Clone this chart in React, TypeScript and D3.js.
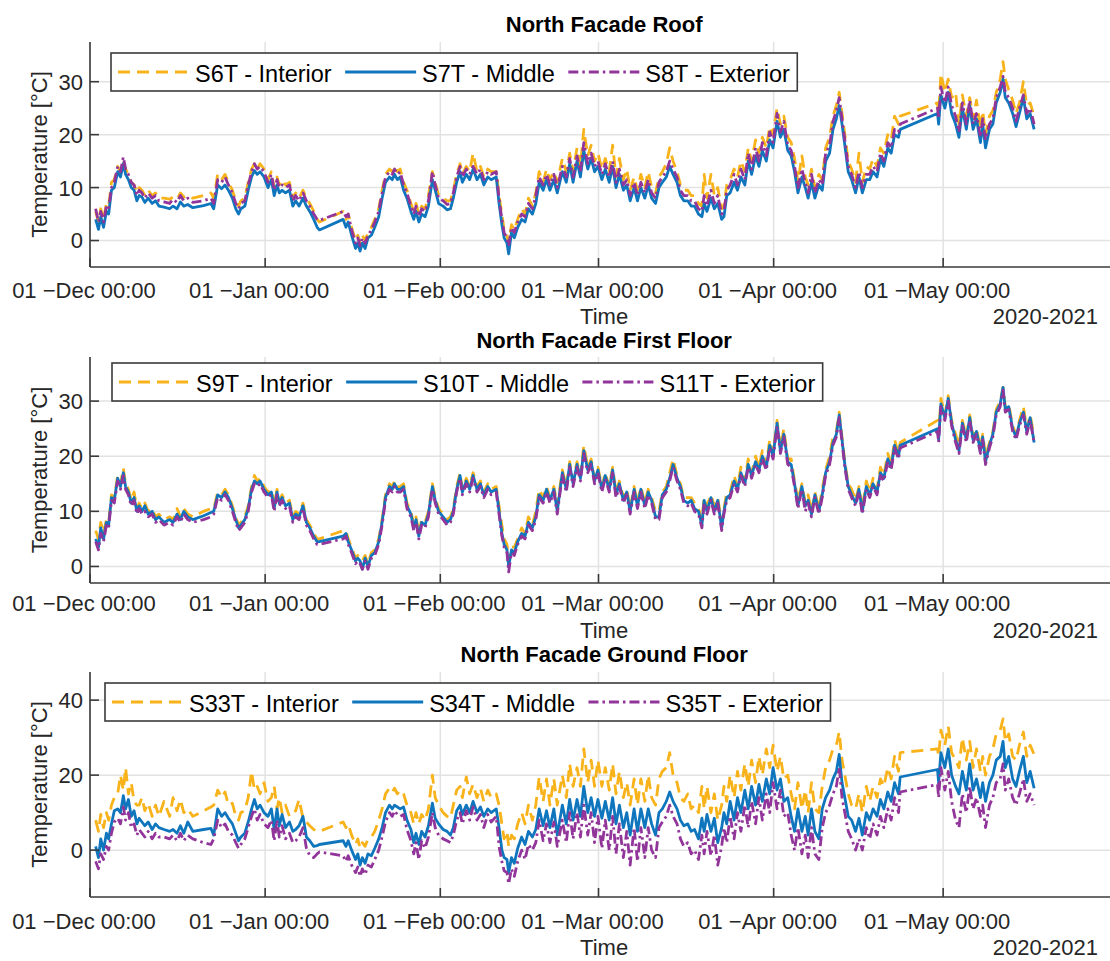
import React, { useMemo } from 'react';
import * as d3 from 'd3';

// Time axis: 1 Dec 2020 to 1 Jun 2021, values stored as days since 1 Dec 2020
const START = Date.UTC(2020, 11, 1);
const END = Date.UTC(2021, 5, 1);
const DAY = 86400000;

const days = [
  1.0, 1.5, 1.9, 2.4, 2.9, 3.3, 3.8, 4.3, 4.9, 5.4, 5.9, 6.3, 6.8, 7.3, 7.8, 8.3, 8.7, 9.2, 9.7, 10.3, 11.0, 11.6, 12.2, 13.1, 14.1, 14.7, 15.4, 16.0, 16.6, 17.3, 18.2, 20.1, 21.4, 21.9,
  22.6, 23.3, 23.9, 24.5, 25.2, 25.8, 26.3, 26.7, 27.4, 28.0, 28.6, 29.1, 29.6, 30.1, 30.8, 31.5, 32.1, 32.6, 33.1, 33.5, 34.0, 34.6, 35.3, 35.9, 36.4, 37.0, 37.7, 38.3, 38.9, 39.6, 40.2, 40.6,
  44.8, 45.3, 45.7, 46.3, 47.0, 47.4, 47.8, 48.2, 48.7, 49.2, 49.8, 50.4, 51.1, 51.7, 52.3, 53.0, 53.5, 53.9, 54.4, 54.9, 55.5, 56.1, 56.8, 57.3, 57.7, 58.2, 58.7, 59.3, 59.9, 60.6, 61.1, 61.7, 62.5, 63.2, 63.8, 64.3, 64.9, 65.5, 65.9, 66.6, 67.2, 67.8, 68.5, 69.1, 69.7, 70.4, 71.0, 71.9,
  72.4, 72.9, 73.3, 73.8, 74.1, 74.6, 75.1, 75.7, 76.4, 77.0, 77.6, 78.3, 78.9, 79.5, 80.2, 80.8, 81.4, 82.1, 82.7, 83.6, 84.3, 84.9, 85.5, 86.2, 86.8, 87.4, 88.1, 88.7, 89.3, 89.9, 90.6, 91.2, 91.9, 92.5, 93.1, 93.7, 94.4, 95.0, 95.6, 96.3, 96.9, 97.5, 98.2, 98.8, 99.4, 100.1,
  100.7, 101.3, 102.0, 102.6, 103.2, 103.9, 104.5, 105.1, 105.8, 106.4, 107.0, 107.7, 108.3, 108.7, 109.2, 109.9, 110.5, 111.1, 111.8, 112.2, 112.7, 113.3, 114.0, 114.6, 115.2, 115.9, 116.5, 117.1, 117.8, 118.4, 119.0, 119.7, 120.3, 120.9, 121.6, 122.2, 122.8, 123.5, 124.1, 124.7, 125.3, 126.0, 126.6, 127.1, 127.7, 128.3, 129.0, 129.6, 130.2, 130.9, 131.5, 132.1, 132.6, 133.1, 133.6, 134.2, 134.8, 135.5, 136.1, 136.7, 137.4, 138.0, 138.6, 139.3, 139.9, 140.5, 141.2, 141.8, 142.4, 143.1, 143.4,
  150.0, 150.2, 150.6, 151.3, 151.9, 152.5, 153.2, 153.8, 154.4, 155.1, 155.7, 156.3, 156.9, 157.6, 158.0, 158.5, 159.2, 159.8, 160.4, 161.1, 161.6, 162.0, 162.6, 163.3, 163.9, 164.5, 165.2, 165.8, 166.4, 167.1,
];

// North facade roof [°C]
const roofS6T = [
  5.5, 3.5, 6.0, 4.0, 7.0, 6.5, 11.0, 11.5, 14.0, 13.0, 15.0, 13.5, 12.5, 11.0, 10.5, 9.0, 10.0, 9.5, 8.5, 9.5, 8.5, 9.0, 8.0, 8.0, 7.8, 8.2, 7.8, 9.0, 8.2, 8.5, 8.0, 8.5, 9.0, 8.0,
  12.5, 11.5, 12.5, 11.0, 9.5, 7.5, 6.5, 7.5, 8.0, 11.0, 13.5, 14.5, 13.5, 14.5, 13.5, 11.5, 13.0, 10.0, 12.0, 10.5, 11.5, 10.5, 11.0, 8.0, 9.0, 8.0, 9.5, 8.0, 7.0, 5.5, 4.0, 3.5,
  5.5, 4.0, 5.0, 2.5, 0.0, 1.0, -0.5, 1.0, 0.0, 1.5, 2.5, 4.0, 6.0, 9.5, 12.5, 13.5, 13.0, 14.0, 13.0, 13.5, 11.0, 9.5, 7.0, 5.5, 7.0, 5.0, 6.5, 6.0, 8.5, 13.0, 11.0, 8.5, 8.0, 7.5, 7.5, 9.5, 12.5, 14.5, 12.5, 14.0, 13.0, 16.5, 13.0, 14.0, 12.0, 13.5, 13.0, 13.0,
  8.5, 5.0, 2.0, 1.0, -0.5, 3.0, 2.0, 4.0, 6.0, 5.0, 8.0, 6.5, 9.0, 13.0, 11.0, 13.5, 11.5, 13.0, 11.0, 15.5, 13.0, 16.5, 13.0, 17.5, 14.0, 21.0, 16.0, 18.0, 15.0, 16.5, 13.5, 15.5, 13.0, 18.0, 12.0, 15.5, 11.5, 13.5, 9.5, 12.0, 9.5, 12.5, 10.0, 13.0, 10.0, 9.0,
  12.0, 13.0, 14.5, 17.5, 15.0, 13.0, 10.5, 9.5, 9.5, 8.5, 8.5, 7.0, 6.5, 12.5, 8.0, 12.5, 8.5, 10.0, 6.0, 6.5, 10.5, 11.5, 13.5, 12.0, 15.0, 13.0, 17.5, 15.0, 19.0, 16.5, 19.5, 17.5, 21.5, 20.0, 25.0, 22.0, 23.5, 19.5, 18.5, 15.5, 11.0, 16.0, 12.0, 10.5, 13.5, 10.0, 12.5, 11.5, 17.5, 19.5, 23.5, 25.5, 28.0, 24.0, 20.0, 15.0, 13.5, 11.0, 16.5, 11.0, 14.0, 13.5, 15.5, 14.0, 17.5, 16.5, 20.0, 19.0, 23.5, 22.0, 23.5,
  26.0, 24.0, 31.5, 28.0, 30.5, 27.0, 28.0, 22.0, 27.5, 23.5, 27.0, 23.0, 26.5, 21.0, 24.5, 20.0, 23.5, 24.5, 28.0, 30.5, 33.8, 30.5, 28.5, 26.5, 24.0, 26.0, 30.0, 25.5, 26.0, 23.5,
];
const roofS7T = [
  4.0, 2.1, 4.5, 2.5, 5.5, 5.0, 9.5, 10.0, 13.0, 12.0, 14.5, 12.5, 11.5, 10.0, 9.5, 7.5, 8.5, 8.2, 7.2, 8.0, 7.0, 7.5, 6.5, 6.3, 6.0, 6.5, 6.0, 7.3, 6.5, 6.8, 6.2, 6.6, 7.0, 6.0,
  10.5, 9.8, 10.5, 9.5, 8.0, 6.0, 5.0, 6.0, 6.5, 9.5, 12.0, 13.2, 12.5, 13.0, 12.0, 10.0, 11.5, 8.5, 10.5, 9.0, 9.5, 9.0, 9.5, 6.5, 7.5, 6.5, 8.0, 6.5, 5.5, 4.0, 2.5, 2.0,
  4.0, 2.5, 3.5, 1.0, -1.5, -0.5, -2.0, -0.5, -1.5, 0.5, 1.0, 2.5, 4.5, 8.0, 11.0, 12.0, 11.5, 12.5, 11.5, 12.0, 9.5, 8.0, 5.5, 4.0, 5.5, 3.5, 5.0, 4.5, 6.5, 11.5, 9.5, 7.0, 6.5, 5.8, 6.0, 8.0, 11.0, 13.0, 11.0, 12.5, 11.5, 13.5, 11.5, 12.5, 10.5, 12.0, 11.5, 12.0,
  7.0, 3.0, 0.5, -0.5, -2.5, 1.5, 0.5, 2.5, 4.0, 3.5, 6.0, 5.0, 7.0, 11.0, 9.5, 11.5, 9.5, 11.5, 9.0, 13.0, 11.0, 14.5, 11.0, 15.0, 12.0, 17.0, 13.5, 15.5, 13.0, 14.0, 11.5, 13.5, 11.0, 14.0, 10.0, 12.5, 9.5, 10.5, 7.5, 10.0, 7.5, 10.0, 8.0, 10.5, 8.0, 7.0,
  10.0, 11.0, 12.0, 14.0, 12.5, 11.0, 8.5, 7.5, 7.5, 6.5, 6.5, 5.0, 4.5, 7.0, 5.5, 8.0, 6.0, 7.0, 4.0, 4.5, 8.5, 9.0, 11.0, 9.5, 12.0, 10.5, 15.0, 12.5, 16.0, 14.0, 17.0, 15.0, 19.0, 17.5, 22.5, 19.5, 21.0, 17.0, 16.0, 13.0, 9.0, 12.0, 10.0, 8.0, 11.0, 8.0, 10.5, 9.5, 15.0, 16.5, 21.0, 23.0, 25.5, 22.0, 18.0, 13.0, 11.5, 9.0, 12.0, 9.0, 11.5, 11.5, 13.0, 12.0, 15.5, 14.0, 17.5, 16.5, 20.0, 19.5, 21.0,
  24.0, 22.0, 27.5, 25.0, 28.0, 24.0, 22.0, 19.5, 25.0, 21.0, 25.5, 21.0, 23.0, 18.5, 22.0, 17.5, 21.0, 22.0, 26.0, 28.0, 30.5, 27.0, 26.0, 24.0, 21.5, 24.0, 27.0, 23.0, 24.0, 21.0,
];
const roofS8T = [
  6.0, 3.5, 5.5, 3.5, 6.5, 6.0, 10.0, 11.0, 14.0, 13.0, 15.8, 13.5, 12.5, 11.0, 10.5, 8.5, 9.5, 9.0, 8.0, 9.0, 8.0, 8.5, 7.5, 7.3, 7.0, 7.8, 7.2, 8.5, 7.5, 8.0, 7.2, 7.5, 8.0, 7.0,
  11.5, 11.0, 12.0, 10.5, 9.0, 7.0, 6.0, 7.0, 7.5, 10.5, 13.0, 14.5, 13.5, 14.0, 13.0, 11.0, 12.5, 9.5, 11.5, 10.0, 10.5, 10.0, 10.5, 7.5, 8.5, 7.5, 9.0, 7.5, 6.5, 5.0, 4.0, 3.8,
  5.5, 4.5, 5.0, 2.0, -0.5, 0.5, -1.0, 0.5, -0.5, 1.0, 2.0, 3.5, 5.5, 9.0, 12.0, 13.0, 12.5, 13.5, 12.5, 13.0, 10.5, 9.0, 6.5, 5.0, 6.5, 4.5, 6.0, 5.5, 7.5, 13.0, 10.5, 8.0, 7.5, 6.8, 7.0, 9.0, 12.0, 14.0, 12.0, 13.5, 12.5, 14.0, 12.5, 13.5, 11.5, 13.0, 12.5, 13.0,
  8.0, 4.0, 1.5, 0.5, -1.0, 2.5, 1.5, 3.5, 5.0, 4.5, 7.0, 6.0, 8.5, 12.0, 10.5, 12.5, 10.5, 12.5, 10.0, 14.0, 12.0, 15.5, 12.0, 16.0, 13.0, 18.5, 14.5, 16.5, 14.0, 15.0, 12.5, 14.5, 12.0, 15.0, 11.0, 13.5, 10.5, 11.5, 8.5, 11.0, 8.5, 11.0, 9.0, 11.5, 9.0, 8.0,
  11.0, 12.0, 13.0, 15.0, 13.5, 12.0, 9.5, 8.5, 8.5, 7.5, 7.5, 6.0, 5.5, 8.5, 6.5, 9.5, 7.0, 8.5, 5.0, 5.5, 9.5, 10.5, 12.5, 10.5, 13.5, 11.5, 16.5, 13.5, 17.5, 15.0, 18.5, 16.0, 20.5, 18.5, 24.0, 20.5, 22.5, 18.0, 17.0, 14.0, 10.0, 13.5, 11.0, 9.0, 12.5, 9.0, 11.5, 10.5, 16.5, 18.0, 22.5, 24.5, 27.0, 23.0, 19.0, 14.0, 12.5, 10.0, 13.0, 10.0, 12.5, 12.5, 14.0, 13.0, 16.5, 15.0, 18.5, 17.5, 21.0, 20.5, 22.0,
  25.0, 23.0, 29.0, 26.0, 29.0, 25.5, 23.5, 20.5, 26.0, 22.0, 26.5, 22.0, 24.0, 19.5, 23.0, 19.0, 22.0, 23.0, 27.0, 29.0, 31.0, 28.0, 27.0, 25.0, 22.5, 25.0, 27.5, 24.0, 25.0, 22.0,
];

// North facade first floor [°C]
const firstS9T = [
  6.5, 5.0, 8.0, 6.0, 8.5, 8.0, 13.0, 12.5, 16.5, 15.0, 17.8, 15.0, 14.0, 12.0, 13.5, 10.5, 11.5, 10.5, 11.5, 10.0, 10.5, 9.0, 9.5, 8.5, 9.0, 8.5, 10.5, 9.0, 10.5, 9.5, 9.0, 10.0, 10.5, 10.5,
  13.5, 13.0, 14.0, 13.0, 11.0, 9.0, 7.5, 8.0, 9.0, 11.0, 14.5, 16.5, 15.5, 16.0, 14.5, 13.5, 14.0, 11.0, 14.0, 12.0, 13.0, 11.5, 12.0, 9.0, 10.0, 9.5, 11.5, 8.5, 7.5, 6.0, 5.0, 5.0,
  6.5, 6.5, 5.0, 3.5, 1.5, 2.0, 1.5, 1.0, 2.0, 0.5, 2.5, 3.0, 5.0, 8.5, 13.0, 15.0, 14.5, 15.5, 14.5, 14.5, 15.0, 11.5, 10.0, 7.5, 9.0, 6.0, 8.5, 8.0, 10.0, 15.0, 12.5, 10.5, 9.5, 8.5, 9.0, 10.5, 14.5, 17.0, 14.0, 16.0, 14.5, 17.0, 14.5, 15.5, 13.5, 15.0, 14.0, 14.5,
  11.0, 7.5, 5.0, 4.0, 1.0, 3.5, 3.5, 5.0, 7.0, 6.0, 9.0, 7.5, 10.0, 14.0, 12.5, 14.5, 12.5, 14.5, 11.0, 17.5, 14.5, 19.0, 15.5, 19.0, 16.5, 22.0, 18.0, 19.5, 16.0, 18.0, 14.5, 17.0, 14.5, 18.0, 13.5, 15.5, 12.5, 14.0, 10.5, 14.5, 11.5, 14.5, 11.5, 14.0, 12.5, 10.0,
  10.0, 13.5, 14.5, 17.0, 19.5, 16.5, 15.0, 12.5, 12.5, 12.5, 11.5, 10.5, 8.5, 12.5, 11.0, 13.0, 11.0, 12.5, 8.0, 10.5, 13.5, 13.5, 16.5, 14.5, 18.0, 15.5, 19.5, 17.0, 20.0, 18.0, 21.0, 18.5, 23.0, 20.5, 26.5, 21.5, 25.0, 19.5, 19.5, 15.5, 12.0, 15.0, 11.5, 13.0, 10.0, 13.5, 10.5, 14.0, 17.5, 20.0, 23.5, 24.5, 28.0, 23.5, 19.0, 15.0, 14.0, 12.0, 14.5, 10.5, 15.5, 13.5, 16.0, 14.0, 18.0, 16.5, 20.5, 18.5, 23.0, 20.5, 22.5,
  26.5, 24.0, 30.5, 27.5, 31.0, 26.5, 24.0, 22.0, 26.5, 23.5, 27.5, 23.5, 25.0, 21.5, 24.0, 20.0, 22.5, 24.5, 28.5, 30.0, 32.5, 29.0, 29.5, 25.5, 24.0, 26.5, 29.0, 25.0, 27.5, 23.5,
];
const firstS10T = [
  5.0, 3.5, 7.0, 5.0, 8.0, 7.5, 12.5, 12.0, 16.0, 14.5, 17.0, 14.5, 13.5, 11.5, 12.5, 10.0, 11.0, 10.0, 11.0, 9.5, 10.0, 8.5, 9.0, 8.0, 8.5, 8.0, 9.5, 8.5, 10.0, 9.0, 8.5, 9.2, 9.8, 10.0,
  13.0, 12.5, 13.5, 12.5, 10.5, 8.5, 7.0, 7.5, 8.5, 10.5, 14.0, 15.5, 15.0, 15.5, 14.0, 13.0, 13.5, 10.5, 13.5, 11.5, 12.5, 11.0, 11.5, 8.5, 9.5, 9.0, 11.0, 8.0, 7.0, 5.5, 4.5, 4.5,
  5.5, 6.0, 4.5, 3.0, 1.0, 1.5, 1.0, -0.5, 1.5, 0.0, 2.0, 2.5, 4.5, 8.0, 12.5, 14.5, 14.0, 15.0, 14.0, 14.0, 14.5, 11.0, 9.5, 7.0, 8.5, 5.5, 8.0, 7.5, 9.5, 14.5, 12.0, 10.0, 9.0, 8.0, 8.5, 10.0, 14.0, 16.5, 13.5, 15.5, 14.0, 16.5, 14.0, 15.0, 13.0, 14.5, 13.5, 14.0,
  10.0, 6.0, 4.0, 3.0, 0.0, 3.0, 2.5, 4.5, 6.0, 5.5, 8.0, 7.0, 9.0, 13.0, 12.0, 14.0, 12.0, 14.0, 10.0, 17.0, 14.0, 18.5, 15.0, 18.5, 16.0, 21.0, 17.5, 19.0, 15.5, 17.5, 14.0, 16.5, 14.0, 17.5, 13.0, 15.0, 12.0, 13.5, 10.0, 14.0, 11.0, 14.0, 11.0, 13.5, 12.0, 9.0,
  9.0, 13.0, 14.0, 16.0, 18.5, 16.0, 14.5, 12.0, 11.5, 12.0, 10.5, 10.0, 7.5, 12.0, 10.0, 12.5, 10.0, 12.0, 7.0, 10.0, 12.5, 13.0, 15.5, 14.0, 17.0, 15.0, 18.5, 16.5, 19.0, 17.5, 20.0, 18.0, 22.0, 20.0, 26.0, 21.0, 24.0, 19.0, 18.5, 15.0, 11.0, 14.5, 11.0, 12.0, 9.5, 13.0, 10.0, 13.0, 17.0, 19.0, 22.5, 24.0, 27.5, 23.0, 18.5, 14.5, 13.0, 11.5, 14.0, 10.0, 14.5, 13.0, 15.0, 13.5, 17.0, 16.0, 19.5, 18.0, 22.0, 20.0, 22.0,
  25.0, 23.0, 29.5, 27.0, 30.5, 26.0, 23.0, 21.0, 26.0, 23.0, 27.0, 23.0, 24.5, 21.0, 23.5, 19.0, 22.0, 24.0, 28.0, 29.5, 32.5, 28.5, 29.0, 25.0, 23.5, 26.0, 28.0, 24.5, 27.0, 22.5,
];
const firstS11T = [
  4.5, 3.0, 6.0, 4.5, 7.5, 7.0, 12.0, 11.5, 15.5, 14.0, 16.5, 14.0, 13.0, 11.0, 12.0, 9.5, 10.5, 9.5, 10.0, 9.0, 9.5, 8.0, 8.5, 7.5, 8.0, 7.5, 9.0, 8.0, 9.5, 8.5, 8.0, 8.5, 9.0, 9.5,
  12.5, 12.0, 13.0, 12.0, 10.0, 8.0, 6.5, 7.0, 8.0, 10.0, 13.5, 15.0, 14.5, 15.0, 13.5, 12.5, 13.0, 10.0, 13.0, 11.0, 12.0, 10.5, 11.0, 8.0, 9.0, 8.5, 10.5, 7.5, 6.5, 5.0, 4.0, 4.0,
  5.0, 5.5, 4.0, 2.5, 0.5, 1.0, 0.5, -0.5, 1.0, -0.5, 1.5, 2.0, 4.0, 7.5, 12.0, 14.0, 13.5, 14.5, 13.5, 13.5, 14.0, 10.5, 9.0, 6.5, 8.0, 5.0, 7.5, 7.0, 9.0, 14.0, 11.5, 9.5, 8.5, 7.5, 8.0, 9.5, 13.5, 16.0, 13.0, 15.0, 13.5, 16.0, 13.5, 14.5, 12.5, 14.0, 13.0, 13.5,
  9.5, 5.5, 3.5, 2.5, -1.0, 2.5, 2.0, 4.0, 5.5, 5.0, 7.5, 6.5, 8.5, 12.5, 11.5, 13.5, 11.5, 13.5, 9.5, 16.5, 13.5, 18.0, 14.5, 18.0, 15.5, 20.5, 17.0, 18.5, 15.0, 17.0, 13.5, 16.0, 13.5, 17.0, 12.5, 14.5, 11.5, 13.0, 9.5, 13.5, 10.5, 13.5, 10.5, 13.0, 11.5, 8.5,
  8.5, 12.5, 13.5, 15.5, 18.0, 15.5, 14.0, 11.5, 11.0, 11.5, 10.0, 9.5, 7.0, 11.5, 9.5, 12.0, 9.5, 11.5, 6.5, 9.5, 12.0, 12.5, 15.0, 13.5, 16.5, 14.5, 18.0, 16.0, 18.5, 17.0, 19.5, 17.5, 21.5, 19.5, 25.5, 20.5, 23.5, 18.5, 18.0, 14.5, 10.5, 14.0, 10.0, 11.5, 9.0, 12.5, 9.5, 12.5, 16.5, 18.5, 22.0, 23.5, 27.0, 22.5, 18.0, 14.0, 12.5, 11.0, 13.5, 9.5, 14.0, 12.5, 14.5, 13.0, 16.5, 15.5, 19.0, 17.5, 21.5, 19.5, 21.5,
  24.5, 22.5, 29.0, 26.5, 30.0, 25.5, 22.5, 20.5, 25.5, 22.5, 26.5, 22.5, 24.0, 20.5, 23.0, 18.5, 21.5, 23.5, 27.5, 29.0, 32.0, 28.0, 28.5, 24.5, 23.0, 25.5, 27.5, 24.0, 26.5, 22.5,
];

// North facade ground floor [°C]
const groundS33T = [
  8.0, 5.0, 9.5, 6.0, 10.0, 8.0, 12.0, 14.0, 15.0, 20.0, 16.0, 22.0, 15.0, 18.0, 13.0, 12.0, 12.0, 14.0, 10.5, 12.5, 9.0, 12.0, 9.0, 13.0, 9.0, 14.0, 10.5, 13.5, 10.0, 11.0, 9.0, 10.5, 11.5, 12.0,
  16.0, 14.0, 15.5, 12.0, 12.5, 9.0, 8.0, 10.0, 10.5, 14.0, 21.0, 16.0, 17.0, 15.0, 18.0, 13.0, 14.0, 17.0, 11.0, 14.0, 10.0, 12.0, 9.0, 10.0, 10.5, 13.5, 8.5, 7.5, 6.5, 5.5, 5.0, 5.0,
  7.5, 6.0, 7.0, 4.0, 1.5, 3.0, 0.5, 2.0, 1.0, 3.0, 3.5, 5.0, 8.0, 11.0, 15.0, 16.5, 15.5, 16.5, 15.0, 16.0, 15.0, 12.0, 10.0, 7.0, 10.0, 7.0, 9.5, 8.0, 11.0, 20.0, 14.0, 12.0, 10.0, 9.0, 8.5, 12.0, 16.0, 17.0, 14.0, 19.5, 15.0, 17.5, 14.0, 16.5, 13.0, 16.0, 14.0, 15.0,
  12.0, 7.0, 3.0, 5.0, 1.0, 4.0, 3.0, 7.0, 10.0, 7.0, 12.0, 8.0, 12.0, 19.5, 13.0, 19.0, 12.0, 19.0, 12.0, 20.0, 14.0, 23.0, 17.0, 22.0, 17.0, 27.0, 18.0, 24.0, 17.0, 24.0, 17.0, 22.0, 16.0, 23.0, 15.0, 21.0, 14.0, 18.0, 12.0, 19.0, 12.0, 19.0, 13.0, 20.0, 14.0, 12.0,
  19.0, 21.0, 22.0, 26.0, 20.0, 18.0, 14.0, 13.0, 15.0, 11.0, 12.0, 10.0, 17.0, 11.0, 17.0, 10.0, 15.0, 8.0, 12.0, 17.0, 13.0, 20.0, 14.0, 21.0, 16.0, 23.0, 17.0, 24.0, 18.0, 25.0, 20.0, 27.0, 22.0, 28.0, 21.0, 25.0, 19.0, 20.0, 15.0, 11.0, 18.0, 11.0, 16.0, 10.0, 18.0, 11.0, 10.0, 17.0, 22.0, 24.0, 27.0, 28.0, 31.5, 24.0, 20.0, 15.0, 12.0, 11.0, 15.0, 10.0, 17.0, 13.0, 17.0, 14.0, 19.0, 17.0, 22.0, 19.0, 25.0, 21.0, 26.0,
  27.0, 25.0, 32.0, 28.0, 33.0, 26.0, 24.0, 22.0, 30.0, 24.0, 29.0, 22.0, 27.0, 21.0, 25.0, 20.0, 25.0, 27.0, 31.0, 32.0, 35.0, 29.0, 31.0, 25.0, 24.0, 28.0, 31.5, 25.0, 28.0, 25.5,
];
const groundS34T = [
  1.0, -2.0, 3.0, 0.0, 4.5, 3.0, 7.0, 10.5, 11.0, 10.0, 14.5, 11.0, 13.5, 9.0, 10.5, 7.0, 8.5, 7.5, 6.5, 7.5, 5.5, 7.0, 6.0, 5.5, 5.0, 5.5, 4.5, 6.5, 4.5, 7.5, 5.0, 5.5, 5.8, 4.0,
  11.0, 9.0, 10.0, 8.5, 7.0, 4.5, 2.5, 3.5, 4.5, 7.5, 11.0, 13.5, 11.0, 12.0, 10.0, 9.0, 11.0, 5.5, 11.0, 6.5, 9.5, 6.0, 7.5, 5.0, 5.5, 6.5, 9.0, 3.5, 2.5, 1.0, 1.2, 1.5,
  2.5, 1.0, 2.5, 0.0, -2.5, -1.0, -4.0, -2.0, -3.5, -1.0, -1.5, 0.5, 3.0, 6.0, 10.0, 12.0, 11.0, 12.0, 11.5, 11.0, 11.5, 8.0, 5.5, 2.0, 4.5, 1.5, 5.0, 3.5, 6.5, 12.5, 8.5, 7.0, 5.5, 5.0, 4.0, 6.0, 10.5, 12.0, 9.5, 12.0, 10.0, 13.0, 10.0, 11.5, 9.0, 11.0, 10.0, 11.0,
  6.0, 0.0, -2.0, -2.5, -6.0, -2.0, -3.5, 0.5, 3.5, 1.5, 5.0, 3.5, 5.5, 11.0, 6.5, 10.5, 6.0, 11.0, 4.0, 12.0, 7.0, 13.5, 8.0, 13.5, 9.0, 17.0, 10.0, 14.0, 9.0, 13.5, 8.5, 13.0, 8.0, 14.0, 7.0, 12.0, 6.0, 10.0, 4.0, 11.0, 5.0, 11.0, 6.0, 11.0, 7.0, 4.0,
  10.0, 11.0, 13.0, 15.5, 13.0, 11.0, 8.0, 6.5, 7.0, 5.0, 5.5, 3.0, 8.5, 5.0, 9.5, 5.0, 8.5, 2.0, 6.0, 10.0, 7.0, 13.0, 8.0, 14.0, 10.0, 16.0, 11.0, 17.0, 12.0, 17.5, 13.0, 19.0, 15.0, 22.0, 16.0, 19.0, 13.0, 14.0, 9.0, 5.0, 11.0, 5.0, 9.0, 4.0, 11.0, 5.0, 3.0, 11.0, 14.0, 16.0, 19.0, 21.0, 25.5, 18.0, 14.0, 9.0, 8.0, 5.0, 8.5, 4.0, 10.0, 8.0, 11.0, 9.0, 13.5, 11.0, 15.5, 13.0, 18.0, 15.0, 19.5,
  21.5, 18.0, 26.0, 22.0, 27.0, 20.0, 17.0, 15.0, 21.0, 16.0, 23.0, 16.0, 19.0, 14.0, 18.0, 13.0, 18.0, 20.0, 24.0, 25.0, 29.0, 22.0, 25.0, 19.0, 17.0, 21.0, 25.0, 18.0, 21.0, 16.5,
];
const groundS35T = [
  -3.0, -5.0, -1.0, -2.5, 1.0, 0.0, 4.5, 7.5, 8.5, 7.0, 11.5, 8.0, 10.0, 6.0, 7.0, 4.0, 5.5, 4.5, 3.5, 5.0, 3.0, 4.5, 3.5, 3.5, 3.0, 4.0, 2.5, 4.5, 2.5, 4.0, 3.0, 2.0, 1.5, 3.0,
  8.0, 6.0, 7.0, 5.0, 4.0, 2.0, 0.5, 1.5, 3.0, 6.0, 9.0, 11.0, 8.0, 9.5, 7.0, 6.0, 8.0, 2.5, 8.0, 3.5, 6.5, 3.0, 4.5, 2.0, 2.5, 3.5, 6.0, 0.5, -1.5, -2.0, -1.0, -0.5,
  -1.5, -3.0, -1.5, -4.0, -6.0, -4.5, -7.0, -5.0, -6.5, -4.0, -4.5, -2.5, 0.0, 3.5, 7.5, 10.0, 9.0, 10.5, 9.5, 9.0, 9.5, 5.5, 2.5, -1.0, 2.0, -2.5, 2.5, 0.5, 3.5, 10.0, 6.0, 4.0, 3.0, 2.5, 2.0, 4.0, 8.0, 10.0, 7.0, 10.5, 8.0, 11.5, 8.0, 9.5, 6.0, 9.5, 7.5, 9.0,
  1.0, -3.0, -5.5, -6.0, -9.0, -5.0, -7.0, -3.0, 0.0, -2.5, 1.5, 0.0, 2.0, 8.0, 2.5, 7.0, 2.0, 7.5, 1.0, 8.0, 2.0, 10.0, 3.0, 10.0, 3.5, 12.0, 4.0, 10.0, 2.0, 9.0, 0.5, 8.0, 0.0, 9.0, -1.0, 7.0, -2.0, 5.0, -4.0, 6.0, -3.0, 6.0, -2.0, 6.0, 0.0, -2.0,
  6.0, 7.5, 9.0, 12.0, 9.0, 7.0, 3.0, 1.0, 2.0, -1.0, 0.0, -2.5, 4.0, -1.0, 5.0, -1.5, 4.0, -4.0, 1.0, 6.0, 2.0, 9.0, 3.0, 10.0, 5.0, 12.0, 6.0, 13.0, 7.0, 14.0, 8.0, 15.0, 10.0, 18.0, 11.0, 16.0, 9.0, 10.0, 4.0, 0.0, 6.0, -1.0, 4.0, -2.0, 6.0, -1.0, -2.5, 6.0, 10.0, 12.0, 15.0, 17.0, 22.0, 14.0, 10.0, 5.0, 3.0, 0.0, 3.0, 0.0, 6.0, 3.0, 7.0, 4.0, 9.0, 6.0, 11.0, 8.0, 14.0, 10.0, 15.5,
  17.5, 14.0, 22.0, 16.0, 21.0, 13.0, 8.0, 6.0, 15.0, 10.0, 17.0, 11.0, 14.0, 9.0, 12.0, 6.0, 12.0, 14.0, 18.0, 19.0, 23.0, 16.0, 19.0, 14.0, 12.0, 15.0, 19.0, 13.0, 15.0, 12.0,
];

const roofYTicks = [0, 10, 20, 30];
const firstYTicks = [0, 10, 20, 30];
const groundYTicks = [0, 20, 40];

const roofNames = ['S6T - Interior', 'S7T - Middle', 'S8T - Exterior'];
const firstNames = ['S9T - Interior', 'S10T - Middle', 'S11T - Exterior'];
const groundNames = ['S33T - Interior', 'S34T - Middle', 'S35T - Exterior'];

const FONT = "'Liberation Sans', Arial, Helvetica, sans-serif";
const INK = '#262626';
const COLORS = ['#F8B21A', '#0F76BE', '#92359A'];
const DASHES = ['12 7', undefined, '10 4 2.5 4'];
const LINE_W = 2.8;

const PLOT_LEFT = 90;
const PX_PER_DAY = 5.65;

let measureCtx: CanvasRenderingContext2D | null = null;
function textWidth(text: string, size: number) {
  if (!measureCtx) measureCtx = document.createElement('canvas').getContext('2d');
  if (!measureCtx) return text.length * size * 0.5;
  measureCtx.font = `${size}px ${FONT}`;
  return measureCtx.measureText(text).width;
}

type PanelCfg = {
  title: string;
  names: string[];
  series: number[][];
  top: number;
  bottom: number;
  yDomain: [number, number];
  yTicks: number[];
  legendX: number;
  legendY: number;
  titleY: number;
  tickLabelY: number;
  axisLabelY: number;
};

const panels: PanelCfg[] = [
  {
    title: 'North Facade Roof', names: roofNames, series: [roofS6T, roofS7T, roofS8T],
    top: 42, bottom: 267, yDomain: [-5, 37.5], yTicks: roofYTicks,
    legendX: 111, legendY: 53, titleY: 31.5, tickLabelY: 297.5, axisLabelY: 324,
  },
  {
    title: 'North Facade First Floor', names: firstNames, series: [firstS9T, firstS10T, firstS11T],
    top: 357, bottom: 583, yDomain: [-3, 38], yTicks: firstYTicks,
    legendX: 112, legendY: 363, titleY: 348, tickLabelY: 611, axisLabelY: 638,
  },
  {
    title: 'North Facade Ground Floor', names: groundNames, series: [groundS33T, groundS34T, groundS35T],
    top: 672, bottom: 897, yDomain: [-12.5, 47.5], yTicks: groundYTicks,
    legendX: 105, legendY: 683, titleY: 662, tickLabelY: 929, axisLabelY: 955,
  },
];

const dates = days.map((d) => new Date(START + d * DAY));

function Panel({ cfg, x }: { cfg: PanelCfg; x: d3.ScaleTime<number, number> }) {
  const y = d3.scaleLinear().domain(cfg.yDomain).range([cfg.bottom, cfg.top]);
  const [x0, x1] = x.range();
  const months = d3.utcMonth.range(new Date(START), new Date(END));
  const fmt = d3.utcFormat('%d \u2212%b %H:%M');
  const line = d3
    .line<number>()
    .x((_, i) => x(dates[i]))
    .y((v) => y(v));
  const midX = (x0 + x1) / 2;
  const midY = (cfg.top + cfg.bottom) / 2;

  // legend layout
  const legendFont = 23.5;
  const sample = 71;
  const widths = cfg.names.map((n) => textWidth(n, legendFont));
  const items: { lx: number; tx: number }[] = [];
  let cx = cfg.legendX + 7;
  widths.forEach((w) => {
    items.push({ lx: cx, tx: cx + sample + 6 });
    cx += sample + 6 + w + 13;
  });
  const legendW = cx - 13 + 7 - cfg.legendX;
  const legendH = 38;

  return (
    <g>
      {/* grid */}
      <g stroke="#E2E2E2" strokeWidth={1.5}>
        {cfg.yTicks.map((t) => (
          <line key={`gy${t}`} x1={x0} x2={x1} y1={y(t)} y2={y(t)} />
        ))}
        {months.map((m) => (
          <line key={`gx${+m}`} x1={x(m)} x2={x(m)} y1={cfg.top} y2={cfg.bottom} />
        ))}
      </g>

      {/* series */}
      {cfg.series.map((vals, k) => (
        <path
          key={k}
          d={line(vals) || ''}
          fill="none"
          stroke={COLORS[k]}
          strokeWidth={LINE_W}
          strokeDasharray={DASHES[k]}
          strokeLinejoin="round"
        />
      ))}

      {/* axes */}
      <g stroke="#3A3A3A" strokeWidth={1.6}>
        <line x1={x0} x2={x0} y1={cfg.top} y2={cfg.bottom} />
        <line x1={x0} x2={x1} y1={cfg.bottom} y2={cfg.bottom} />
        {cfg.yTicks.map((t) => (
          <line key={`ty${t}`} x1={x0} x2={x0 + 9} y1={y(t)} y2={y(t)} />
        ))}
        {months.map((m) => (
          <line key={`tx${+m}`} x1={x(m)} x2={x(m)} y1={cfg.bottom} y2={cfg.bottom - 9} />
        ))}
      </g>

      <g fontFamily={FONT} fontSize={22} fill={INK}>
        {cfg.yTicks.map((t) => (
          <text key={`ly${t}`} x={x0 - 7} y={y(t)} dy="0.36em" textAnchor="end">
            {t}
          </text>
        ))}
        {months.map((m) => (
          <text key={`lx${+m}`} x={x(m) - 6} y={cfg.tickLabelY} textAnchor="middle">
            {fmt(m)}
          </text>
        ))}
        <text x={midX} y={cfg.axisLabelY} textAnchor="middle">Time</text>
        <text x={1098} y={cfg.axisLabelY} textAnchor="end">2020-2021</text>
        <text transform={`translate(47,${midY}) rotate(-90)`} textAnchor="middle">
          Temperature [°C]
        </text>
        <text x={midX} y={cfg.titleY} textAnchor="middle" fontWeight="bold" fill="#000">
          {cfg.title}
        </text>
      </g>

      {/* legend */}
      <g>
        <rect
          x={cfg.legendX}
          y={cfg.legendY}
          width={legendW}
          height={legendH}
          fill="#fff"
          stroke="#3A3A3A"
          strokeWidth={1.6}
        />
        {cfg.names.map((n, k) => (
          <g key={n}>
            <line
              x1={items[k].lx}
              x2={items[k].lx + sample}
              y1={cfg.legendY + 19}
              y2={cfg.legendY + 19}
              stroke={COLORS[k]}
              strokeWidth={LINE_W}
              strokeDasharray={DASHES[k]}
            />
            <text
              x={items[k].tx}
              y={cfg.legendY + 28.5}
              fontFamily={FONT}
              fontSize={legendFont}
              fill="#000"
            >
              {n}
            </text>
          </g>
        ))}
      </g>
    </g>
  );
}

export default function App() {
  const x = useMemo(
    () =>
      d3
        .scaleUtc()
        .domain([new Date(START), new Date(END)])
        .range([PLOT_LEFT, PLOT_LEFT + ((END - START) / DAY) * PX_PER_DAY]),
    []
  );
  return (
    <svg
      width={1110}
      height={961}
      viewBox="0 0 1110 961"
      style={{ position: 'absolute', left: 0, top: 0, background: '#fff' }}
    >
      <rect width={1110} height={961} fill="#fff" />
      {panels.map((p) => (
        <Panel key={p.title} cfg={p} x={x} />
      ))}
    </svg>
  );
}
